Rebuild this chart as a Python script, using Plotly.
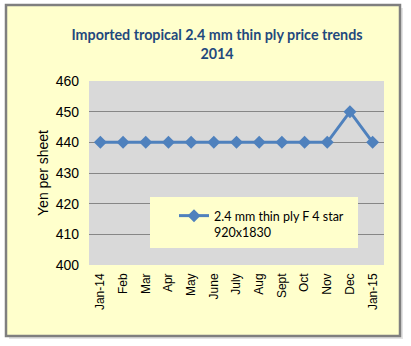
import plotly.graph_objects as go

months = ["Jan-14", "Feb", "Mar", "Apr", "May", "June", "July", "Aug",
          "Sept", "Oct", "Nov", "Dec", "Jan-15"]
prices = [440, 440, 440, 440, 440, 440, 440, 440, 440, 440, 440, 450, 440]
series_name = "2.4 mm thin ply F 4 star<br>920x1830"
y_ticks = [400, 410, 420, 430, 440, 450, 460]

W, H = 411, 346
L, R, T, B = 89, 384, 81, 265  # plot area in pixels


def px_x(p):
    return (p - L) / (R - L)


def px_y(p):
    return (B - p) / (B - T)


BLUE = "#4F81BD"
CREAM = "#FFFFCC"
HUMANIST = "Lato, DejaVu Sans Condensed, sans-serif"
ARIAL = "Liberation Sans, Arial, sans-serif"

fig = go.Figure()
fig.add_trace(go.Scatter(
    x=months, y=prices, name=series_name, mode="lines+markers",
    line=dict(color=BLUE, width=3),
    marker=dict(symbol="diamond", size=10, color=BLUE),
))

shapes = [
    # drop shadow of the chart frame
    dict(type="rect", xref="paper", yref="paper", layer="below",
         x0=px_x(9), x1=px_x(403), y0=px_y(339), y1=px_y(8),
         fillcolor="#E4E4E4", line=dict(width=0)),
    # chart frame
    dict(type="rect", xref="paper", yref="paper", layer="below",
         x0=px_x(6), x1=px_x(400), y0=px_y(336), y1=px_y(5),
         fillcolor=CREAM, line=dict(color="#7F7F7F", width=2.5)),
    # plot area
    dict(type="rect", xref="paper", yref="paper", layer="below",
         x0=0, x1=1, y0=0, y1=1,
         fillcolor="#D9D9D9", line=dict(width=0)),
    # legend box
    dict(type="rect", xref="paper", yref="paper", layer="above",
         x0=px_x(150), x1=px_x(358), y0=px_y(248), y1=px_y(197),
         fillcolor=CREAM, line=dict(width=0)),
]

fig.update_layout(
    width=W, height=H,
    margin=dict(l=L, r=W - R, t=T, b=H - B),
    paper_bgcolor="white",
    plot_bgcolor="rgba(0,0,0,0)",
    shapes=shapes,
    title=dict(
        text="Imported tropical 2.4 mm thin ply price trends<br>2014",
        x=px_x(217), xanchor="center", xref="paper",
        y=1 - 40 / H, yanchor="top",
        font=dict(family=HUMANIST, size=14.3, color="#1F497D", weight="bold"),
    ),
    xaxis=dict(
        type="category", range=[-0.5, len(months) - 0.5],
        tickangle=-90, showgrid=False, zeroline=False,
        showline=False, ticks="", ticklabelstandoff=5,
        tickfont=dict(family=ARIAL, size=12, color="#000000"),
    ),
    yaxis=dict(
        range=[400, 460], tickvals=y_ticks,
        showgrid=True, gridcolor="#868686", gridwidth=1,
        zeroline=False, showline=False, ticks="", ticklabelstandoff=9,
        tickfont=dict(family=ARIAL, size=14, color="#000000"),
        title=dict(text="Yen per sheet", standoff=3,
                   font=dict(family=ARIAL, size=14, color="#000000")),
    ),
    showlegend=True,
    legend=dict(
        x=px_x(174), y=px_y(201), xanchor="left", yanchor="top",
        bgcolor="rgba(0,0,0,0)", borderwidth=0, valign="top",
        font=dict(family=HUMANIST, size=12.5, color="#000000"),
    ),
)

fig.write_html("out.html")
